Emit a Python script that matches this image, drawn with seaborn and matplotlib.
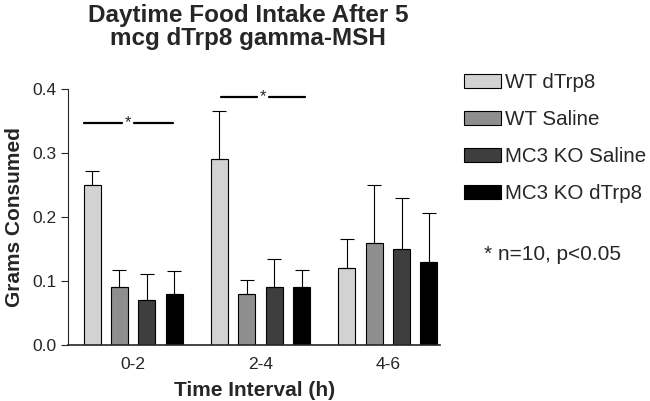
import numpy as np
import pandas as pd
import matplotlib
matplotlib.use("Agg")
import matplotlib.pyplot as plt
import seaborn as sns
from matplotlib.patches import Patch

# Valors llegits de la figura
intervals = ["0-2", "2-4", "4-6"]
groups = ["WT dTrp8", "WT Saline", "MC3 KO Saline", "MC3 KO dTrp8"]
means = {
    "WT dTrp8":      [0.25, 0.29, 0.12],
    "WT Saline":     [0.09, 0.08, 0.16],
    "MC3 KO Saline": [0.07, 0.09, 0.15],
    "MC3 KO dTrp8":  [0.08, 0.09, 0.13],
}
sems = {
    "WT dTrp8":      [0.022, 0.076, 0.045],
    "WT Saline":     [0.027, 0.022, 0.090],
    "MC3 KO Saline": [0.041, 0.045, 0.080],
    "MC3 KO dTrp8":  [0.036, 0.027, 0.076],
}
colors = ["#d2d2d2", "#8e8e8e", "#3e3e3e", "#000000"]

rows = []
for g in groups:
    for i, t in enumerate(intervals):
        rows.append({"interval": t, "group": g, "grams": means[g][i]})
df = pd.DataFrame(rows)

sns.set_style("ticks")
plt.rcParams["font.family"] = ["Liberation Sans", "DejaVu Sans"]

fig = plt.figure(figsize=(6.5, 4.01), dpi=100)
ax = fig.add_axes([0.105, 0.140, 0.572, 0.638])

sns.barplot(data=df, x="interval", y="grams", hue="group", hue_order=groups,
            order=intervals, palette=colors, edgecolor="black", linewidth=0.8,
            width=0.86, gap=0.38, errorbar=None, legend=False, ax=ax)

# barres d'error només cap amunt
for g, cont in zip(groups, ax.containers):
    xs = [b.get_x() + b.get_width() / 2 for b in cont]
    ys = [b.get_height() for b in cont]
    err = np.array(sems[g])
    ax.errorbar(xs, ys, yerr=[np.zeros_like(err), err], fmt="none",
                ecolor="black", elinewidth=0.8, capsize=4.8, capthick=0.8)

# línies de significació
def sig(x0, x1, y):
    xm = (x0 + x1) / 2
    ax.plot([x0, xm - 0.05], [y, y], color="black", lw=1.6, clip_on=False)
    ax.plot([xm + 0.05, x1], [y, y], color="black", lw=1.6, clip_on=False)
    ax.text(xm, y, "*", ha="center", va="center", fontsize=12)

sig(-0.39, 0.31, 0.347)
sig(0.69, 1.35, 0.388)

ax.set_ylim(0, 0.4)
ax.set_xlim(-0.51, 2.41)
ax.set_yticks([0.0, 0.1, 0.2, 0.3, 0.4])
ax.set_yticklabels(["0.0", "0.1", "0.2", "0.3", "0.4"])
ax.tick_params(axis="y", labelsize=12.5, length=5, width=0.8)
ax.tick_params(axis="x", labelsize=12.5, length=0, pad=9)
for s in ["top", "right"]:
    ax.spines[s].set_visible(False)
ax.spines["left"].set_linewidth(0.8)
ax.spines["bottom"].set_linewidth(1.2)

ax.set_xlabel("Time Interval (h)", fontsize=15, fontweight="bold", labelpad=6)
ax.set_ylabel("Grams Consumed", fontsize=15, fontweight="bold", labelpad=6)
fig.text(0.382, 0.99, "Daytime Food Intake After 5\nmcg dTrp8 gamma-MSH",
         ha="center", va="top", fontsize=17.5, fontweight="bold", linespacing=1.0)

handles = [Patch(facecolor=c, edgecolor="black", linewidth=0.8) for c in colors]
fig.legend(handles, groups, loc="upper left", bbox_to_anchor=(0.714, 0.818),
           frameon=False, fontsize=14.8, handlelength=1.8, handleheight=0.65,
           handletextpad=0.2, labelspacing=0.88, borderaxespad=0,
           borderpad=0)
fig.text(0.745, 0.365, "* n=10, p<0.05", fontsize=15, va="center")

plt.savefig("out.png", dpi=100)
